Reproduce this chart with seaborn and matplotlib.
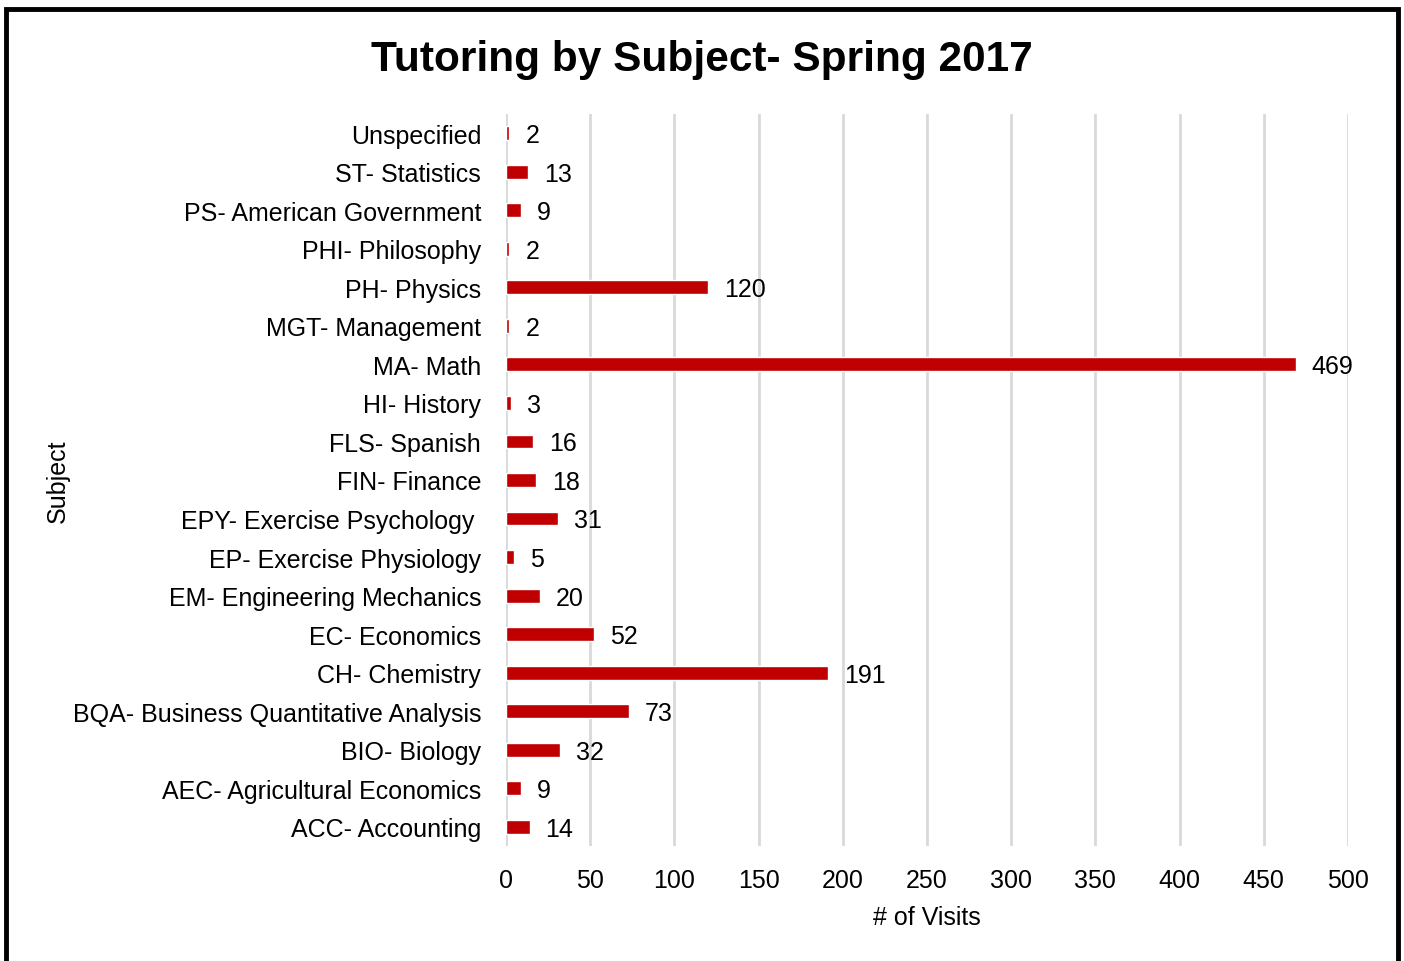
import pandas as pd
import matplotlib
matplotlib.use('Agg')
import matplotlib.pyplot as plt
import seaborn as sns
from matplotlib.patches import Rectangle

# Subjects listed top to bottom as in the chart
subjects = ['Unspecified', 'ST- Statistics', 'PS- American Government', 'PHI- Philosophy',
            'PH- Physics', 'MGT- Management', 'MA- Math', 'HI- History', 'FLS- Spanish',
            'FIN- Finance', 'EPY- Exercise Psychology ', 'EP- Exercise Physiology',
            'EM- Engineering Mechanics', 'EC- Economics', 'CH- Chemistry',
            'BQA- Business Quantitative Analysis', 'BIO- Biology',
            'AEC- Agricultural Economics', 'ACC- Accounting']
visits = [2, 13, 9, 2, 120, 2, 469, 3, 16, 18, 31, 5, 20, 52, 191, 73, 32, 9, 14]
x_ticks = [0, 50, 100, 150, 200, 250, 300, 350, 400, 450, 500]

df = pd.DataFrame({'Subject': subjects, 'Visits': visits})

sns.set_style('white')
plt.rcParams['font.family'] = ['Liberation Sans', 'DejaVu Sans']
plt.rcParams['text.color'] = 'black'

fig = plt.figure(figsize=(14.04, 9.62), dpi=100)
ax = fig.add_axes([0.3604, 0.1195, 0.5997, 0.761])

sns.barplot(data=df, x='Visits', y='Subject', orient='h', color='#C00000',
            saturation=1, width=0.36, ax=ax)

# value labels next to bars
for i, v in enumerate(visits):
    ax.text(v + 9.5, i + 0.05, str(v), va='center', ha='left', fontsize=18, color='black')

ax.set_xlim(0, 500)
ax.set_ylim(18.5, -0.5)
ax.set_xticks(x_ticks)
ax.xaxis.grid(True, color='#D9D9D9', linewidth=2)
ax.set_axisbelow(True)
for s in ax.spines.values():
    s.set_visible(False)
ax.tick_params(axis='both', length=0, labelsize=18, colors='black')
ax.tick_params(axis='x', pad=16)
ax.tick_params(axis='y', pad=18)

ax.set_xlabel('# of Visits', fontsize=18, labelpad=9, color='black')
ax.set_ylabel('')
fig.text(0.041, 0.5, 'Subject', rotation=90, fontsize=18, ha='center', va='center')

fig.suptitle('Tutoring by Subject- Spring 2017', x=0.5, y=0.938, va='center',
             fontsize=30.5, fontweight='bold', color='black')

# outer frame of the chart box
fig.patches.append(Rectangle((0.0043, -0.02), 0.9915, 1.01, transform=fig.transFigure,
                             fill=False, edgecolor='black', linewidth=3.5))

fig.savefig('out.png', dpi=100)
